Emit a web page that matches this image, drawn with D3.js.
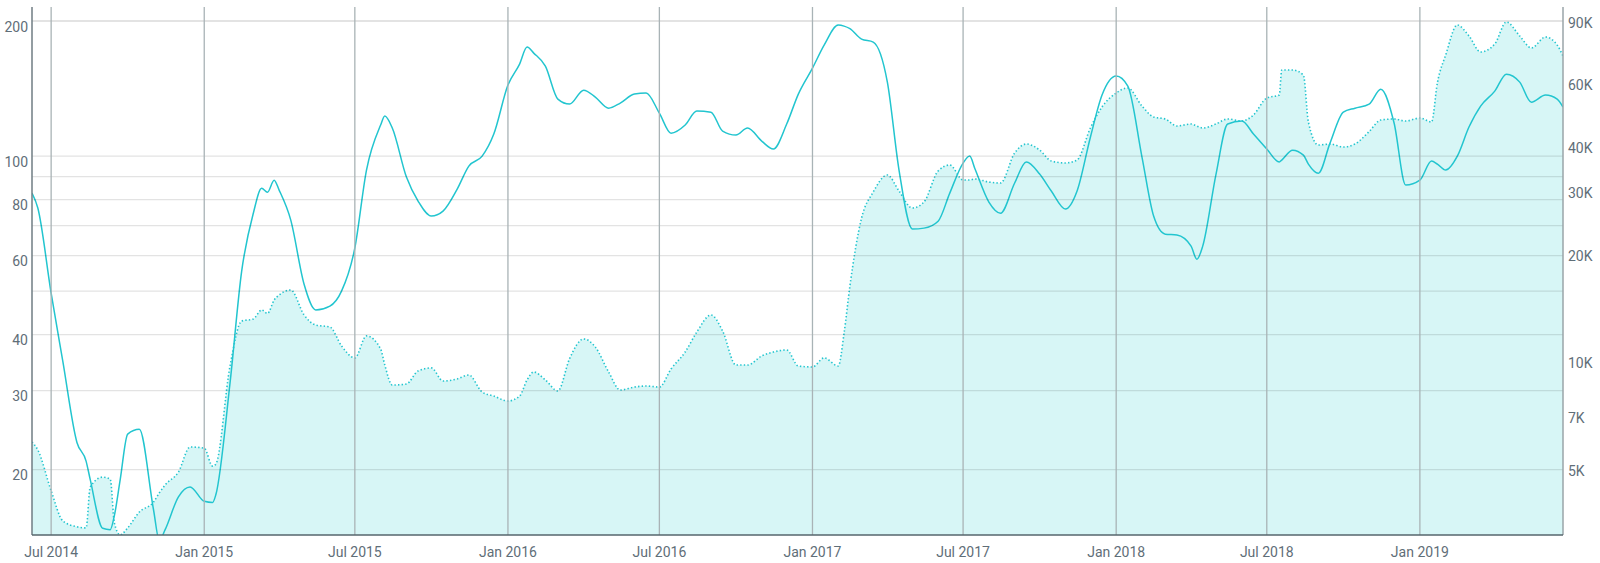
<!DOCTYPE html>
<html>
<head>
<meta charset="utf-8">
<script src="https://cdn.jsdelivr.net/npm/d3@7"></script>
<style>
  html, body { margin: 0; padding: 0; background: #ffffff; }
  svg { display: block; font-family: Roboto, "Noto Sans", sans-serif; }
</style>
</head>
<body>
<svg id="chart" width="1600" height="563"></svg>
<script>
// ---- data ----
const dates = [
  "2014-06-08","2014-06-15","2014-07-01","2014-07-15","2014-08-01","2014-08-12","2014-08-17","2014-09-01","2014-09-10","2014-09-15",
  "2014-09-22","2014-10-01","2014-10-15","2014-11-01","2014-11-08","2014-11-15","2014-12-01","2014-12-15","2015-01-01","2015-01-11",
  "2015-01-15","2015-02-01","2015-02-15","2015-03-01","2015-03-11","2015-03-18","2015-03-26","2015-04-01","2015-04-15","2015-05-01","2015-05-15","2015-06-01",
  "2015-06-15","2015-07-01","2015-07-15","2015-08-01","2015-08-06","2015-08-15","2015-09-01","2015-09-15","2015-10-01","2015-10-15",
  "2015-11-01","2015-11-15","2015-12-01","2015-12-15","2016-01-01","2016-01-15","2016-01-24","2016-02-01","2016-02-15","2016-03-01",
  "2016-03-15","2016-04-01","2016-04-15","2016-05-01","2016-05-15","2016-06-01","2016-06-15","2016-07-01","2016-07-15","2016-08-01",
  "2016-08-15","2016-09-01","2016-09-15","2016-10-01","2016-10-15","2016-11-01","2016-11-15","2016-12-01","2016-12-15","2017-01-01",
  "2017-01-15","2017-02-01","2017-02-08","2017-02-15","2017-03-01","2017-03-15","2017-04-01","2017-04-15","2017-05-01","2017-05-15",
  "2017-06-01","2017-06-15","2017-07-01","2017-07-09","2017-07-15","2017-08-01","2017-08-15","2017-09-01","2017-09-15","2017-10-01",
  "2017-10-15","2017-11-01","2017-11-15","2017-12-01","2017-12-15","2018-01-01","2018-01-15","2018-02-01","2018-02-15","2018-03-01",
  "2018-03-15","2018-04-01","2018-04-08","2018-04-15","2018-05-01","2018-05-15","2018-06-01","2018-06-15","2018-07-01","2018-07-16",
  "2018-07-19","2018-08-01","2018-08-14","2018-08-20","2018-09-01","2018-09-15","2018-10-01","2018-10-15","2018-11-01","2018-11-15",
  "2018-12-01","2018-12-15","2019-01-01","2019-01-15","2019-01-22","2019-02-01","2019-02-15","2019-03-01","2019-03-15","2019-04-01",
  "2019-04-15","2019-05-01","2019-05-15","2019-06-01","2019-06-15","2019-06-22"
];

// solid line, left (log) axis
const lineSeries = [
  82.7, 76.6, 49.5, 34.9, 23.0, 20.9, 19.0, 14.8, 14.7, 15.8,
  19.0, 24.0, 24.6, 16.3, 13.9, 14.7, 17.4, 18.3, 17.0, 16.9,
  17.6, 31.2, 55.4, 74.6, 84.8, 83.1, 88.4, 84.0, 72.0, 51.8, 45.4, 46.3,
  50.0, 62.4, 93.1, 117.3, 122.8, 115.5, 89.8, 79.4, 73.5, 75.4,
  84.4, 95.0, 100, 112.0, 144.0, 160.4, 175.0, 169.7, 158.7, 134.0,
  130.6, 140.3, 135.4, 127.9, 131.3, 137.5, 138.2, 124.7, 112.5, 117.3,
  126.0, 125.3, 113.7, 111.4, 115.5, 108.0, 103.7, 117.9, 137.5, 157.1,
  176.8, 195.9, 194.9, 192.4, 182.3, 179.6, 146.2, 93.1, 68.8, 69.1,
  71.6, 82.7, 96.5, 100, 94.0, 79.0, 74.6, 87.1, 97.0, 91.2,
  83.6, 76.2, 83.6, 110.2, 136.8, 150.8, 143.2, 99.5, 73.5, 67.0,
  66.7, 63.0, 58.9, 63.0, 91.2, 117.9, 119.7, 112.0, 103.7, 97.0,
  98.0, 103.1, 100.5, 96.0, 91.6, 106.9, 125.3, 127.9, 130.6, 141.0,
  118.5, 86.2, 88.4, 97.5, 96.0, 93.1, 100, 116.1, 129.3, 139.6,
  152.3, 146.2, 131.9, 136.8, 134.0, 128.6
];

// dotted line + area, right (log) axis
const areaSeries = [
  5970, 5670, 4360, 3590, 3455, 3430, 4470, 4760, 4700, 3540,
  3280, 3430, 3800, 4050, 4300, 4525, 4920, 5780, 5740, 5110,
  5180, 9750, 13030, 13200, 14000, 13680, 14920, 15410, 15920, 13550, 12700, 12540,
  11100, 10270, 11840, 10880, 9810, 8620, 8680, 9440, 9630, 8850,
  8970, 9200, 8240, 8030, 7780, 8030, 8910, 9380, 8910, 8300,
  10210, 11610, 11020, 9380, 8350, 8510, 8570, 8510, 9560, 10670,
  12140, 13550, 12220, 9810, 9810, 10400, 10670, 10810, 9750, 9690,
  10270, 9750, 12060, 16340, 25330, 29960, 33430, 30150, 27020, 28090,
  34310, 35660, 32370, 32370, 32580, 31950, 31750, 38530, 40830, 39290,
  36590, 36130, 36830, 45270, 51840, 56750, 58610, 52170, 48600, 47980,
  45860, 46460, 45860, 45270, 46460, 47980, 47370, 49230, 54950, 56020,
  65820, 65820, 63720, 47060, 40570, 40830, 40050, 40830, 44240, 47670,
  47980, 47370, 48290, 47060, 60530, 72500, 87990, 81960, 73930, 77840,
  89710, 81960, 75850, 81430, 77340, 72040
];

const xTickDates = ["2014-07-01","2015-01-01","2015-07-01","2016-01-01","2016-07-01","2017-01-01",
                    "2017-07-01","2018-01-01","2018-07-01","2019-01-01"];
const leftGridValues = [20, 30, 40, 50, 60, 70, 80, 90, 100, 200];
const leftLabelValues = [20, 30, 40, 60, 80, 100, 200];
const rightLabelValues = [5000, 7000, 10000, 20000, 30000, 40000, 60000, 90000];

// ---- layout ----
const plot = { left: 32, right: 1563, top: 7, bottom: 535 };
const lineColor = "#22c5cf";
const areaColor = "#d7f6f6";
const textColor = "#5f6e78";

const parse = d3.utcParse("%Y-%m-%d");
const rows = dates.map((d, i) => ({ date: parse(d), a: lineSeries[i], b: areaSeries[i] }));

const x = d3.scaleUtc()
  .domain([parse("2014-06-08"), parse("2019-06-22")])
  .range([plot.left, plot.right]);
const yL = d3.scaleLog().domain([14.3, 215]).range([plot.bottom, plot.top]);
const yR = d3.scaleLog().domain([3277, 98830]).range([plot.bottom, plot.top]);

const svg = d3.select("#chart");

svg.append("defs").append("clipPath").attr("id", "plotClip")
  .append("rect")
  .attr("x", plot.left).attr("y", plot.top)
  .attr("width", plot.right - plot.left).attr("height", plot.bottom - plot.top);

const g = svg.append("g").attr("clip-path", "url(#plotClip)");

// area (right axis)
const area = d3.area()
  .x(d => x(d.date))
  .y0(plot.bottom)
  .y1(d => yR(d.b))
  .curve(d3.curveMonotoneX);
g.append("path").datum(rows).attr("d", area).attr("fill", areaColor);

// horizontal grid (left axis values)
svg.append("g").selectAll("line").data(leftGridValues).join("line")
  .attr("x1", plot.left).attr("x2", plot.right)
  .attr("y1", d => yL(d)).attr("y2", d => yL(d))
  .attr("stroke", "rgba(0,0,0,0.11)")
  .attr("stroke-width", d => d === 200 ? 2 : 1.2);

// vertical grid
svg.append("g").selectAll("line").data(xTickDates).join("line")
  .attr("x1", d => x(parse(d))).attr("x2", d => x(parse(d)))
  .attr("y1", plot.top).attr("y2", plot.bottom)
  .attr("stroke", "#a9b3b6").attr("stroke-width", 1.3);

// dotted line (right axis)
const lineR = d3.line().x(d => x(d.date)).y(d => yR(d.b)).curve(d3.curveMonotoneX);
g.append("path").datum(rows).attr("d", lineR)
  .attr("fill", "none").attr("stroke", lineColor)
  .attr("stroke-width", 1.6).attr("stroke-dasharray", "1.4,2.2");

// solid line (left axis)
const lineL = d3.line().x(d => x(d.date)).y(d => yL(d.a)).curve(d3.curveMonotoneX);
g.append("path").datum(rows).attr("d", lineL)
  .attr("fill", "none").attr("stroke", lineColor).attr("stroke-width", 1.5);

// axis lines
svg.append("line").attr("x1", plot.left).attr("x2", plot.left)
  .attr("y1", plot.top).attr("y2", plot.bottom)
  .attr("stroke", "#6f7d83").attr("stroke-width", 1.5);
svg.append("line").attr("x1", plot.right).attr("x2", plot.right)
  .attr("y1", plot.top).attr("y2", plot.bottom)
  .attr("stroke", "#9aa5a9").attr("stroke-width", 1.5);
svg.append("line").attr("x1", plot.left).attr("x2", plot.right)
  .attr("y1", plot.bottom).attr("y2", plot.bottom)
  .attr("stroke", "#56666c").attr("stroke-width", 1.5);

// left labels
svg.append("g").selectAll("text").data(leftLabelValues).join("text")
  .attr("x", 28).attr("y", d => yL(d) + 10.5)
  .attr("text-anchor", "end").attr("font-size", 14).attr("fill", textColor)
  .text(d => d3.format("d")(d));

// right labels
svg.append("g").selectAll("text").data(rightLabelValues).join("text")
  .attr("x", 1568).attr("y", d => yR(d) + 6)
  .attr("text-anchor", "start").attr("font-size", 14).attr("fill", textColor)
  .text(d => (d / 1000) + "K");

// bottom labels
const fmt = d3.utcFormat("%b %Y");
svg.append("g").selectAll("text").data(xTickDates).join("text")
  .attr("x", d => x(parse(d))).attr("y", 557)
  .attr("text-anchor", "middle").attr("font-size", 14).attr("fill", textColor)
  .text(d => fmt(parse(d)));
</script>
</body>
</html>
